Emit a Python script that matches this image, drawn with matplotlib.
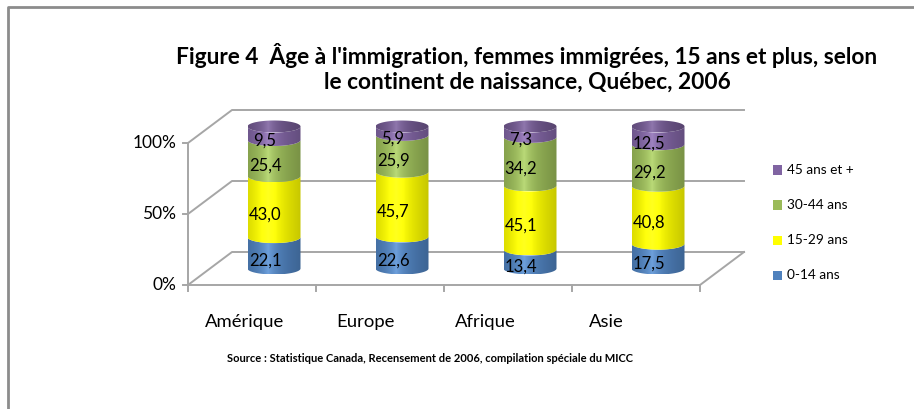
import numpy as np
import matplotlib
matplotlib.use('Agg')
import matplotlib.pyplot as plt
from matplotlib.path import Path
from matplotlib.patches import PathPatch, Rectangle
import matplotlib.colors as mcolors

plt.rcParams['font.family'] = ['Lato', 'DejaVu Sans']

# Données
continents = ['Amérique', 'Europe', 'Afrique', 'Asie']
groupes = ['0-14 ans', '15-29 ans', '30-44 ans', '45 ans et +']
age_0_14 = [22.1, 22.6, 13.4, 17.5]
age_15_29 = [43.0, 45.7, 45.1, 40.8]
age_30_44 = [25.4, 25.9, 34.2, 29.2]
age_45_plus = [9.5, 5.9, 7.3, 12.5]
ticks_y = [0, 50, 100]
couleurs = ['#4F81BD', '#FFFF00', '#9BBB59', '#8064A2']

series = [age_0_14, age_15_29, age_30_44, age_45_plus]

W, H = 914, 409
fig = plt.figure(figsize=(W / 100, H / 100), dpi=100)

# plan avant : x = catégories, y = pourcentage ; axe sur toute la figure
x0, x1, y0, y1 = 188, 700, 285, 143
px_x = (x1 - x0) / len(continents)   # pixels par catégorie
px_y = (y0 - y1) / 100.0             # pixels par point de pourcentage
ax = fig.add_axes([0, 0, 1, 1])
ax.axis('off')

dx = 44 / px_x                       # profondeur en x
dy = 33 / px_y                       # profondeur en y

gris = '#A6A6A6'
lw = 1.4

# murs et plancher
for v in ticks_y:
    ax.plot([0, dx, len(continents) + dx], [v, v + dy, v + dy],
            color=gris, lw=lw, zorder=1)
ax.plot([0, 0], [0, 100], color=gris, lw=lw, zorder=1)
ax.plot([0, len(continents), len(continents) + dx], [0, 0, dy],
        color=gris, lw=lw, zorder=1)
for v in ticks_y:
    ax.plot([-5 / px_x, 0], [v, v], color=gris, lw=lw)
    ax.text(-12 / px_x, v, f'{v}%', ha='right', va='center', fontsize=12.5)
for i in range(len(continents) + 1):
    ax.plot([i, i], [0, -6 / px_y], color=gris, lw=lw)


def ombre(couleur, n=80):
    rgb = np.array(mcolors.to_rgb(couleur))
    t = np.linspace(0, 1, n)
    s = np.clip(1 - np.abs(t - 0.38) / 0.62, 0, 1)
    img = rgb[None, :] * (0.78 + 0.22 * s[:, None]) + 0.12 * (s[:, None] ** 4)
    return np.clip(img, 0, 1)[None, :, :]


a = 26.5 / px_x     # demi-largeur du cylindre
b = 6.0 / px_y      # demi-hauteur de l'ellipse
theta = np.linspace(np.pi, 2 * np.pi, 60)

for i, nom in enumerate(continents):
    vals = np.array([s[i] for s in series])
    vals = vals / vals.sum() * 100
    xc = i + 0.5 + dx / 2
    cum = dy / 2
    for k, v in enumerate(vals):
        bas, haut = cum, cum + v
        xs_h = xc + a * np.cos(theta)
        ys_h = haut + b * np.sin(theta)
        xs_b = (xc + a * np.cos(theta))[::-1]
        ys_b = (bas + b * np.sin(theta))[::-1]
        verts = np.vstack([np.column_stack([xs_h, ys_h]),
                           np.column_stack([xs_b, ys_b]),
                           [[xs_h[0], ys_h[0]]]])
        patch = PathPatch(Path(verts), facecolor='none', edgecolor='none')
        ax.add_patch(patch)
        im = ax.imshow(ombre(couleurs[k]), extent=[xc - a, xc + a, bas - b, haut + b],
                       aspect='auto', zorder=3, interpolation='bilinear')
        im.set_clip_path(patch)
        ax.text(xc - 0.07, (bas + haut) / 2 - 5.5, f'{series[k][i]:.1f}'.replace('.', ','),
                ha='center', va='center', fontsize=12, zorder=5)
        cum = haut
    # couvercle
    t2 = np.linspace(0, 2 * np.pi, 120)
    cap = PathPatch(Path(np.column_stack([xc + a * np.cos(t2), cum + b * np.sin(t2)])),
                    facecolor='none', edgecolor='none')
    ax.add_patch(cap)
    capc = np.array(mcolors.to_rgb(couleurs[-1])) * 0.88
    im = ax.imshow(ombre(capc), extent=[xc - a, xc + a, cum - b, cum + b],
                   aspect='auto', zorder=4, interpolation='bilinear')
    im.set_clip_path(cap)
    ax.text(i + 0.445 - i * 0.06, -26, nom, ha='center', va='center', fontsize=13.3)

ax.set_xlim(-x0 / px_x, (W - x0) / px_x)
ax.set_ylim(-(H - y0) / px_y, y0 / px_y)

# légende
for j, g in enumerate(groupes[::-1]):
    yy = 170 + j * 35
    fig.patches.append(Rectangle((773 / W, 1 - (yy + 4.5) / H), 9 / W, 9 / H,
                                 transform=fig.transFigure,
                                 facecolor=couleurs[::-1][j], edgecolor='none'))
    fig.text(787 / W, 1 - yy / H, g, ha='left', va='center', fontsize=9.8)

fig.text(527 / W, 1 - 68 / H,
         "Figure 4  Âge à l'immigration, femmes immigrées, 15 ans et plus, selon\n"
         "le continent de naissance, Québec, 2006",
         ha='center', va='center', fontsize=16.3, fontweight='bold', linespacing=1.22)
fig.text(430 / W, 1 - 358 / H,
         'Source : Statistique Canada, Recensement de 2006, compilation spéciale du MICC',
         ha='center', va='center', fontsize=8, fontweight='bold')

# cadre
fig.add_artist(plt.Line2D([8 / W, 8 / W, 1], [0, 1 - 7 / H, 1 - 7 / H],
                          transform=fig.transFigure, color='#8C8C8C', lw=2))

fig.savefig('out.png', dpi=100)
